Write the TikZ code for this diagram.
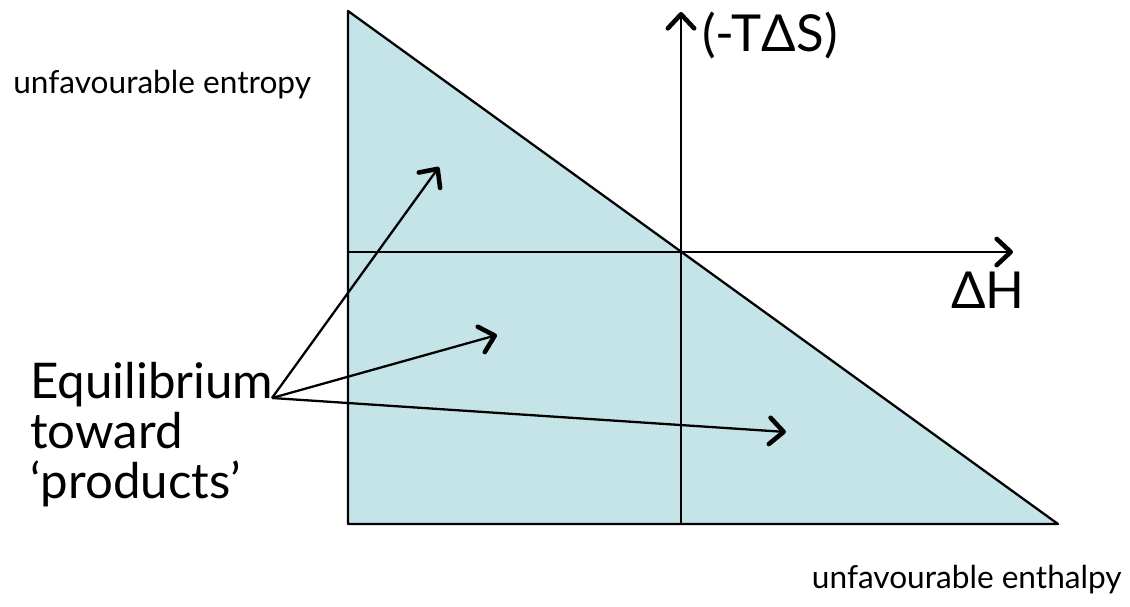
\documentclass[tikz,border=0pt]{standalone}
\usepackage{fontspec}
\setmainfont{Lato}
\usetikzlibrary{arrows.meta}
\definecolor{regionblue}{HTML}{C5E4E8}
\tikzset{
  barb/.style={-{Straight Barb[length=8pt, width=15pt, line width=2.6pt, round]}},
  biglabel/.style={font=\fontsize{29}{32}\selectfont},
  smalllabel/.style={font=\fontsize{18}{20}\selectfont}
}

\begin{document}
\begin{tikzpicture}[x=0.02cm, y=-0.02cm, line join=round]
  \useasboundingbox (0,0) rectangle (1130,607);

  % vertici del triangolo
  \coordinate (A) at (348,11);
  \coordinate (B) at (348,524);
  \coordinate (C) at (1058,524);

  % origine e estremi degli assi
  \coordinate (O) at (681,252);
  \coordinate (Ybot) at (681,524);
  \coordinate (Ytop) at (681,12);
  \coordinate (Xend) at (1013,252);

  % regione
  \filldraw[fill=regionblue, line width=1.3pt] (A)--(B)--(C)--cycle;

  % assi
  \draw[line width=1.3pt, barb] (Ybot) -- (Ytop);
  \draw[line width=1.3pt, barb] (A |- O) -- (Xend);

  % etichette assi
  \node[biglabel, right, inner sep=0pt] (TdS) at (702,35) {(-TΔS)};
  \node[biglabel, inner sep=0pt] (dH) at (988,290) {ΔH};

  % etichette laterali
  \node[smalllabel, right, inner sep=0pt] (entropy) at (13,85) {unfavourable entropy};
  \node[smalllabel, left, inner sep=0pt] (enthalpy) at (1122,580) {unfavourable enthalpy};

  % testo e frecce
  \node[font=\fontsize{28}{28.5}\selectfont, align=left, right, inner sep=0pt] (eq) at (30,435)
    {Equilibrium\\toward\\‘products’};
  \coordinate (src) at (272,398);
  \coordinate (P1) at (439,167);
  \coordinate (P2) at (497,335);
  \coordinate (P3) at (786,432);
  \draw[line width=1.3pt, barb] (src) -- (P1);
  \draw[line width=1.3pt, barb] (src) -- (P2);
  \draw[line width=1.3pt, barb] (src) -- (P3);
\end{tikzpicture}
\end{document}
